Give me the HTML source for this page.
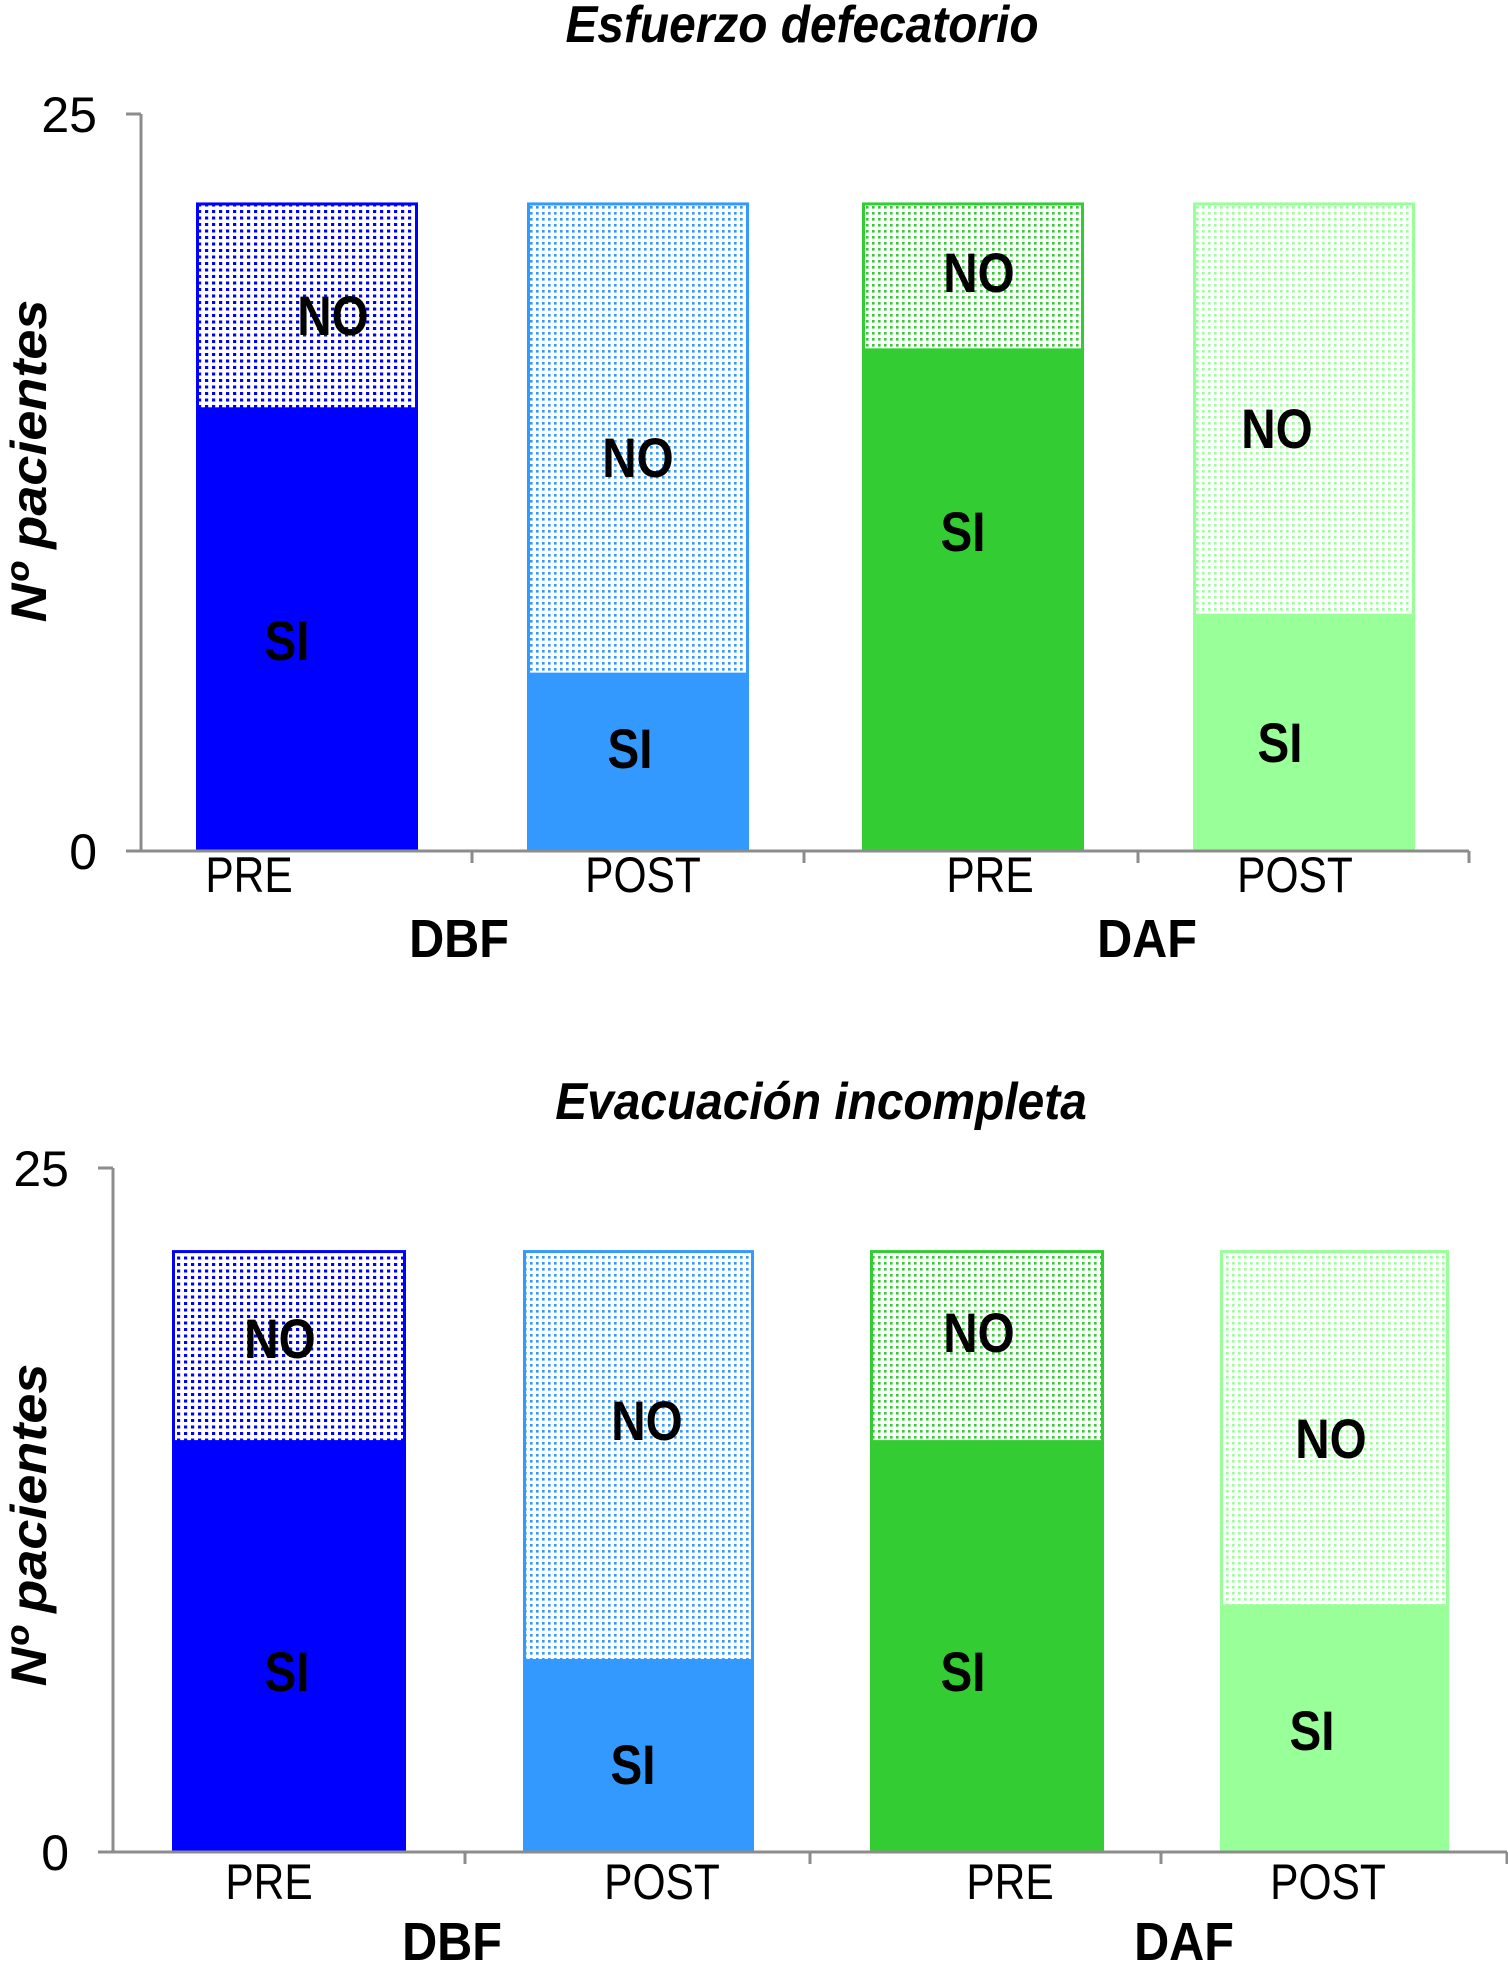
<!DOCTYPE html>
<html><head><meta charset="utf-8"><style>
html,body{margin:0;padding:0;background:#fff}
svg{display:block}
text{font-family:"Liberation Sans",sans-serif}
</style></head><body>
<svg id="chart" width="1508" height="1962" viewBox="0 0 1508 1962" xmlns="http://www.w3.org/2000/svg">
<defs>
<pattern id="p0" width="7" height="6.5" patternUnits="userSpaceOnUse"><rect width="7" height="6.5" fill="#fff"/><rect x="2" y="2" width="3.2" height="3" fill="#0000ff"/></pattern>
<pattern id="p1" width="6" height="6" patternUnits="userSpaceOnUse"><rect width="6" height="6" fill="#fff"/><rect x="2" y="2" width="2.6" height="2.6" fill="#3399ff"/></pattern>
<pattern id="p2" width="6" height="6" patternUnits="userSpaceOnUse"><rect width="6" height="6" fill="#fff"/><rect x="2" y="2" width="2.6" height="2.6" fill="#33cc33"/></pattern>
<pattern id="p3" width="6" height="6" patternUnits="userSpaceOnUse"><rect width="6" height="6" fill="#fff"/><rect x="2" y="2" width="2.6" height="2.6" fill="#99ff99"/></pattern>
</defs>
</svg>
<script>
// Data
const categories = ["PRE","POST","PRE","POST"];
const groups = ["DBF","DAF"];
const chartTitles = ["Esfuerzo defecatorio","Evacuación incompleta"];
const siChart1 = [15, 6, 17, 8];
const noChart1 = [7, 16, 5, 14];
const siChart2 = [15, 7, 15, 9];
const noChart2 = [7, 15, 7, 13];
const yTickLabels = ["0","25"];
const yMax = 25;

const colors = ["#0000ff","#3399ff","#33cc33","#99ff99"];
const NS = "http://www.w3.org/2000/svg";
const svg = document.getElementById("chart");
function mk(tag, attrs, parent){const e=document.createElementNS(NS,tag);for(const k in attrs)e.setAttribute(k,attrs[k]);(parent||svg).appendChild(e);return e;}
function txt(parent, x, y, str, size, sx, extra){
  const a = Object.assign({x:0,y:0,"text-anchor":"middle","font-size":size,transform:`translate(${x},${y}) scale(${sx},1)`}, extra||{});
  const e = mk("text", a, parent);
  e.textContent = str;
  return e;
}

const layouts = [
 {y0:851,y25:114,axisX:141,axisEnd:1469,ticks:[472,804,1138,1469],
  bars:[[196,418],[527,749],[862,1084],[1193,1415]],
  catX:[249,643,990,1295],catY:892,grpX:[459,1147],grpY:957,
  titleX:802,titleY:42,
  noLab:[[333,335],[638,477],[979,292],[1277,448]],
  siLab:[[287,660],[630,768],[963,551],[1280,762]],
  yTitleY:461,si:siChart1,no:noChart1},
 {y0:1852,y25:1168,axisX:113,axisEnd:1507,ticks:[465,810,1161,1507],
  bars:[[172,406],[523,754],[870,1104],[1220,1449]],
  catX:[269,662,1010,1328],catY:1899,grpX:[452,1184],grpY:1960,
  titleX:821,titleY:1119,
  noLab:[[280,1358],[647,1440],[979,1352],[1331,1458]],
  siLab:[[287,1691],[633,1784],[963,1691],[1312,1750]],
  yTitleY:1525,si:siChart2,no:noChart2}
];

layouts.forEach((L,ci)=>{
  const g = mk("g",{});
  
  
  const y = v => L.y0 - (L.y0-L.y25)*v/yMax;
  const t = txt(g, L.titleX, L.titleY, chartTitles[ci], 52, 0.92, {"font-style":"italic","font-weight":"bold"});
  
  
  const yt = mk("text",{x:0,y:0,"text-anchor":"middle","font-size":50,"font-style":"italic","font-weight":"bold",transform:`translate(46,${L.yTitleY}) rotate(-90) scale(1.08,1)`},g);
  yt.textContent = "Nº pacientes";
  
  
  L.bars.forEach((b,i)=>{
    const w=b[1]-b[0];
    const s = mk("rect",{x:b[0],y:y(L.si[i]),width:w,height:y(0)-y(L.si[i]),fill:colors[i]},g);
    
    
    const top = L.si[i]+L.no[i];
    const n = mk("rect",{x:b[0]+1.5,y:y(top)+1.5,width:w-3,height:y(L.si[i])-y(top)-1.5,fill:`url(#p${i})`,stroke:colors[i],"stroke-width":3},g);
    
    
    const nl = txt(g, L.noLab[i][0], L.noLab[i][1], "NO", 56, 0.85, {"font-weight":"bold"});
    
    
    const sl = txt(g, L.siLab[i][0], L.siLab[i][1], "SI", 56, 0.85, {"font-weight":"bold"});
    
    
  });
  const ya = mk("line",{x1:L.axisX,y1:y(yMax),x2:L.axisX,y2:y(0),stroke:"#8c8c8c","stroke-width":3},g);
  
  
  [0,yMax].forEach((v,k)=>{
    const tk = mk("line",{x1:L.axisX-15,y1:y(v),x2:L.axisX,y2:y(v),stroke:"#8c8c8c","stroke-width":3},g);
    
    
    const tl = mk("text",{x:L.axisX-44,y:y(v)+18,"text-anchor":"end","font-size":50},g);
    tl.textContent = yTickLabels[k];
    
    
  });
  const xa = mk("line",{x1:L.axisX,y1:y(0),x2:L.axisEnd,y2:y(0),stroke:"#8c8c8c","stroke-width":3},g);
  
  
  L.ticks.forEach(tx=>{
    const tk = mk("line",{x1:tx,y1:y(0),x2:tx,y2:y(0)+12,stroke:"#8c8c8c","stroke-width":3},g);
    
    
  });
  categories.forEach((c,i)=>{
    const cl = txt(g, L.catX[i], L.catY, c, 50, 0.85);
    
    
  });
  groups.forEach((gname,i)=>{
    const gl = txt(g, L.grpX[i], L.grpY, gname, 54, 0.9, {"font-weight":"bold"});
    
    
  });
});
</script>
</body></html>
